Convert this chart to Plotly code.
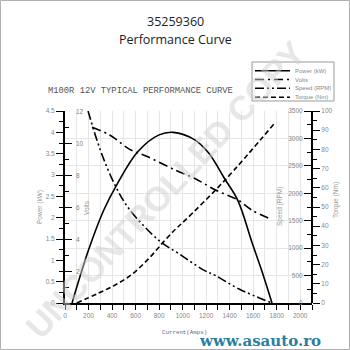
import plotly.graph_objects as go

# ---------------- data ----------------
power_current = [60, 200, 330, 440, 620, 800, 920, 1100, 1220, 1360, 1470, 1590, 1680, 1760]
power_kw = [0, 1.24, 2.18, 2.77, 3.55, 3.94, 4.0, 3.83, 3.52, 2.90, 2.40, 1.42, 0.70, 0]

volts_current = [230, 380, 550, 700, 940, 1100, 1280, 1470, 1590, 1730]
volts_v = [10.98, 10.5, 9.6, 9.15, 8.3, 7.8, 7.06, 6.44, 5.8, 5.3]

speed_current = [196, 300, 425, 550, 810, 960, 1180, 1280, 1480, 1760]
speed_rpm = [3500, 2790, 2150, 1700, 1120, 910, 600, 500, 255, 0]

torque_current = [100, 280, 430, 570, 710, 840, 940, 1020, 1360, 1780]
torque_nm = [0, 5, 9.5, 15, 23, 32, 38.5, 43, 64, 93.5]

x_ticks = [0, 200, 400, 600, 800, 1000, 1200, 1400, 1600, 1800, 2000]
volts_ticks = [2, 4, 6, 8, 10, 12]

title_main = "35259360"
title_sub = "Performance Curve"
chart_caption = "M100R 12V TYPICAL PERFORMANCE CURVE"
legend_names = ["Power (kW)", "Volts", "Speed (RPM)", "Torque (Nm)"]

# ---------------- layout helpers ----------------
L, R, T, B = 65, 38, 111, 47
W = H = 350
PW, PH = W - L - R, H - T - B


def px(x):
    return (x - L) / PW


def py(y):
    return (H - B - y) / PH


tickfont = dict(family="Liberation Sans", size=6.5, color="#888")
styles = [
    dict(color="black", width=1.6, dash="solid"),
    dict(color="black", width=1.6, dash="9px,4px,2px,4px"),
    dict(color="black", width=1.6, dash="9px,3px,2px,3px,2px,3px"),
    dict(color="black", width=1.6, dash="5px,3px"),
]

fig = go.Figure()
fig.add_trace(go.Scatter(x=power_current, y=power_kw, mode="lines", line=dict(**styles[0], shape="spline"),
                         yaxis="y", name=legend_names[0]))
fig.add_trace(go.Scatter(x=volts_current, y=volts_v, mode="lines", line=dict(**styles[1], shape="spline"),
                         yaxis="y2", name=legend_names[1]))
fig.add_trace(go.Scatter(x=speed_current, y=speed_rpm, mode="lines", line=dict(**styles[2], shape="spline"),
                         yaxis="y3", name=legend_names[2]))
fig.add_trace(go.Scatter(x=torque_current, y=torque_nm, mode="lines", line=dict(**styles[3], shape="spline"),
                         yaxis="y4", name=legend_names[3]))

common_axis = dict(zeroline=False, showgrid=False, tickfont=tickfont,
                   tickcolor="black", tickwidth=1.3, ticklen=7)

fig.update_layout(
    width=W, height=H,
    margin=dict(l=L, r=R, t=T, b=B),
    paper_bgcolor="white", plot_bgcolor="white",
    showlegend=False,
    xaxis=dict(range=[0, 2100], tickvals=x_ticks, ticks="outside", ticklen=5, tickwidth=1.3,
               tickcolor="black", showline=True, linecolor="black", linewidth=2,
               showgrid=True, gridcolor="#e6e6e6", gridwidth=1, zeroline=False, tickfont=tickfont,
               minor=dict(dtick=100, ticks="outside", ticklen=5, tickcolor="black", showgrid=True,
                          gridcolor="#e6e6e6")),
    yaxis=dict(range=[0, 4.5], dtick=0.5, ticks="outside", side="left", showline=True,
               linecolor="black", linewidth=2, **common_axis,
               minor=dict(dtick=0.25, ticks="outside", ticklen=4, tickcolor="black")),
    yaxis2=dict(range=[0, 12], tickvals=volts_ticks, ticks="inside", showticklabels=False,
                overlaying="y", side="left", anchor="x", showline=False, **common_axis,
                minor=dict(dtick=1, ticks="inside", ticklen=4, tickcolor="black")),
    yaxis3=dict(range=[0, 3500], dtick=500, ticks="outside",
                overlaying="y", side="left", anchor="free", position=1,
                showline=True, linecolor="black", linewidth=2,
                **{**common_axis, "showgrid": True}, gridcolor="#e6e6e6",
                minor=dict(dtick=250, ticks="outside", ticklen=4, tickcolor="black")),
    yaxis4=dict(range=[0, 100], dtick=10, ticks="outside",
                overlaying="y", side="right", anchor="x", showline=False, **common_axis,
                minor=dict(dtick=5, ticks="outside", ticklen=4, tickcolor="black")),
)

ann = []


def add_text(text, x, y, size, color, family, angle=0, xanchor="center", bold=False, opacity=1):
    ann.append(dict(text=f"<b>{text}</b>" if bold else text, x=px(x), y=py(y), xref="paper", yref="paper",
                    showarrow=False, xanchor=xanchor, yanchor="middle", textangle=angle,
                    font=dict(size=size, color=color, family=family), opacity=opacity))


add_text("UNCONTROLLED COPY", 165, 190, 34, "#d0d0d0", "Liberation Sans", angle=-47, bold=True, opacity=0.5)
add_text(title_main, 175, 22, 12.5, "#222", "Open Sans")
add_text(title_sub, 175, 39, 12.5, "#222", "Open Sans")
add_text(chart_caption, 46, 91, 8.8, "#555", "Liberation Mono", xanchor="left")
add_text("Power (kW)", 40, 207, 6.5, "#999", "Liberation Sans", angle=-90)
add_text("Volts", 86, 208, 6.5, "#999", "Liberation Sans", angle=-90)
add_text("Speed (RPM)", 280, 207, 6.5, "#999", "Liberation Sans", angle=-90)
add_text("Torque (Nm)", 336, 200, 6.5, "#999", "Liberation Sans", angle=-90)
add_text("Current(Amps)", 184, 332, 5.8, "#666", "Liberation Mono")
add_text("www.asauto.ro", 260, 341, 15, "#2a7fa0", "DejaVu Serif", bold=True)

# volts tick labels (placed on the volts axis scale)
for v in volts_ticks:
    ann.append(dict(text=str(v), x=px(74), y=v, xref="paper", yref="y2", showarrow=False,
                    xanchor="left", yanchor="middle",
                    font=dict(family="Liberation Sans", size=6.5, color="#808080")))

# manual legend
shapes = [
    dict(type="rect", xref="paper", yref="paper", x0=px(0.5), y0=py(0.5), x1=px(349.5), y1=py(349.5),
         line=dict(color="#b0b0b0", width=1)),
    dict(type="rect", xref="paper", yref="paper", x0=px(252), y0=py(62), x1=px(334), y1=py(101),
         line=dict(color="#999", width=1), fillcolor="white"),
]
rows = [70.7, 79.5, 88.3, 97.2]
for name, st, yy in zip(legend_names, styles, rows):
    shapes.append(dict(type="line", xref="paper", yref="paper", x0=px(255), x1=px(290), y0=py(yy), y1=py(yy),
                       line=dict(color="black", width=1.6, dash=st["dash"])))
    add_text(name, 293, yy, 6, "#888", "Liberation Sans", xanchor="left")

fig.update_layout(annotations=ann, shapes=shapes)
fig.write_html("out.html")
